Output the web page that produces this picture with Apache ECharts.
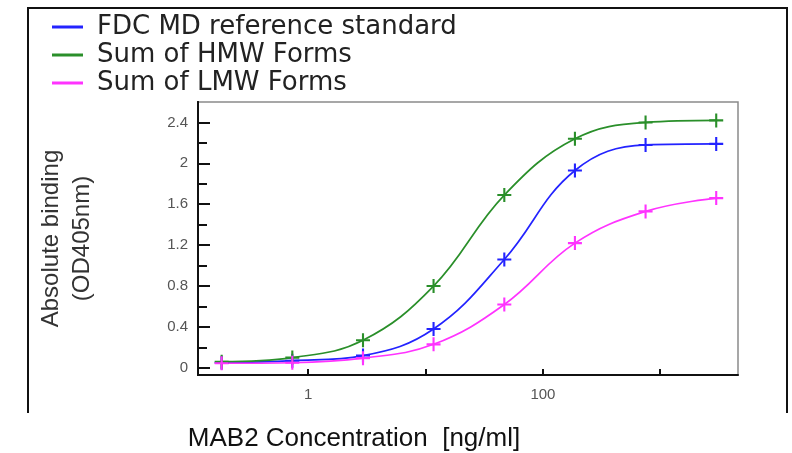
<!DOCTYPE html>
<html>
<head>
<meta charset="utf-8">
<script src="https://cdn.jsdelivr.net/npm/echarts@6/dist/echarts.min.js"></script>
<style>
  html, body { margin: 0; padding: 0; background: #fff; }
  #chart { width: 792px; height: 453px; }
</style>
</head>
<body>
<div id="chart"></div>
<script>
// concentrations (ng/ml), 4-fold dilution series
const concentrations = [0.183, 0.732, 2.93, 11.7, 46.9, 187.5, 750, 3000];
const fdcStandard = [0.05, 0.07, 0.12, 0.38, 1.06, 1.93, 2.18, 2.19];
const hmwForms = [0.06, 0.10, 0.27, 0.80, 1.69, 2.24, 2.40, 2.42];
const lmwForms = [0.045, 0.05, 0.095, 0.23, 0.62, 1.22, 1.53, 1.66];

const seriesNames = ["FDC MD reference standard", "Sum of HMW Forms", "Sum of LMW Forms"];
const seriesColors = ["#2323ff", "#2a8f2a", "#ff33ff"];

const yMajorTicks = [0, 0.4, 0.8, 1.2, 1.6, 2, 2.4];
const yMinorTicks = [0.2, 0.6, 1.0, 1.4, 1.8, 2.2];
const xLabelValues = [1, 100];

const plus = "path://M-1,-0.15 L-0.15,-0.15 L-0.15,-1 L0.15,-1 L0.15,-0.15 L1,-0.15 L1,0.15 L0.15,0.15 L0.15,1 L-0.15,1 L-0.15,0.15 L-1,0.15 Z";

const chart = echarts.init(document.getElementById("chart"));

const makeSeries = (name, values, color) => ({
  name,
  type: "line",
  data: concentrations.map((c, i) => [c, values[i]]),
  smooth: 0.4,
  symbol: plus,
  symbolSize: 14,
  lineStyle: { color, width: 1.7 },
  itemStyle: { color },
});

const yBase = {
  type: "value",
  min: -0.07,
  max: 2.6,
  position: "left",
  splitLine: { show: false },
  axisLine: { show: true, onZero: false, lineStyle: { color: "#111", width: 2 } },
};

const option = {
  animation: false,
  grid: {
    left: 198, right: 54, top: 102, bottom: 78,
    outerBoundsMode: "none",
    containLabel: false,
    show: true, borderColor: "#8a8a8a", borderWidth: 1.5,
  },
  legend: {
    orient: "vertical",
    left: 47,
    top: 9,
    icon: "rect",
    itemWidth: 31,
    itemHeight: 3,
    itemGap: 2,
    data: seriesNames,
    textStyle: {
      fontFamily: "DejaVu Sans",
      fontSize: 26,
      lineHeight: 25,
      color: "#222",
      padding: [0, 0, 0, 9],
    },
  },
  graphic: [{
    type: "polyline",
    shape: { points: [[28, 413], [28, 8], [787, 8], [787, 413]] },
    style: { stroke: "#111", lineWidth: 2, fill: null },
    silent: true,
  }],
  xAxis: {
    type: "log",
    logBase: 10,
    min: 0.115,
    max: 4600,
    name: "MAB2 Concentration  [ng/ml]",
    nameLocation: "middle",
    nameGap: 51,
    nameTextStyle: {
      fontFamily: "Liberation Sans",
      fontSize: 26,
      color: "#111",
      padding: [0, 228, 0, 0],
    },
    splitLine: { show: false },
    axisLine: { show: true, onZero: false, lineStyle: { color: "#111", width: 2 } },
    axisTick: { show: true, inside: true, length: 6, lineStyle: { color: "#111", width: 2 } },
    axisLabel: {
      showMinLabel: false,
      showMaxLabel: false,
      margin: 12,
      fontFamily: "Liberation Sans",
      fontSize: 15,
      color: "#555",
      formatter: (v) => {
        const hit = xLabelValues.find((t) => Math.abs(Math.log10(v) - Math.log10(t)) < 1e-6);
        return hit !== undefined ? String(hit) : "";
      },
    },
  },
  yAxis: [
    Object.assign({}, yBase, {
      name: "Absolute binding\n(OD405nm)",
      nameLocation: "middle",
      nameGap: 100,
      nameRotate: 90,
      nameTextStyle: {
        fontFamily: "Liberation Sans",
        fontSize: 24,
        lineHeight: 31,
        color: "#333",
      },
      axisTick: {
        show: true, inside: true, length: 12,
        customValues: yMajorTicks,
        lineStyle: { color: "#111", width: 2 },
      },
      axisLabel: {
        customValues: yMajorTicks,
        margin: 10,
        fontFamily: "Liberation Sans",
        fontSize: 15,
        color: "#555",
      },
    }),
    Object.assign({}, yBase, {
      axisTick: {
        show: true, inside: true, length: 9,
        customValues: yMinorTicks,
        lineStyle: { color: "#111", width: 2 },
      },
      axisLabel: { show: false },
    }),
  ],
  series: [
    makeSeries(seriesNames[0], fdcStandard, seriesColors[0]),
    makeSeries(seriesNames[1], hmwForms, seriesColors[1]),
    makeSeries(seriesNames[2], lmwForms, seriesColors[2]),
  ],
};

chart.setOption(option);
</script>
</body>
</html>
